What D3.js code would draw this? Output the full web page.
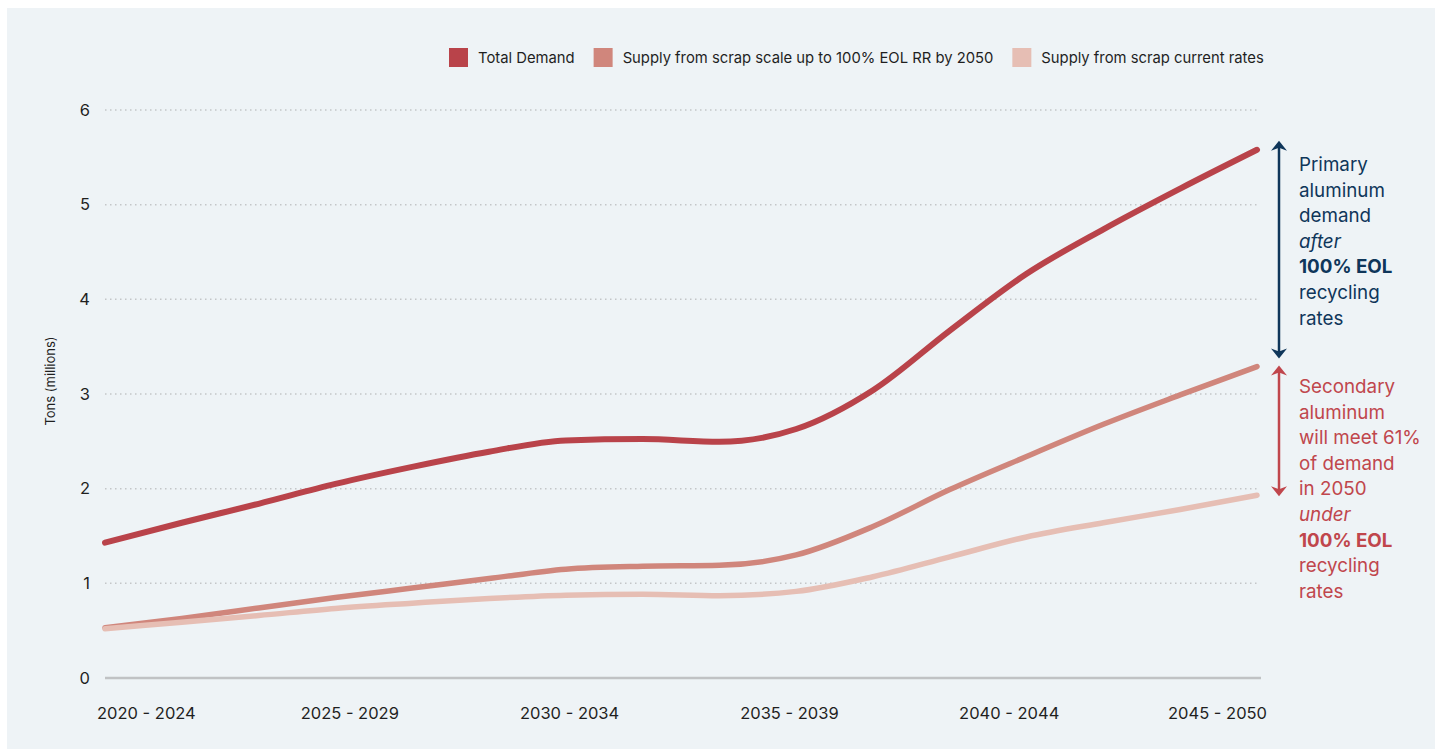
<!DOCTYPE html>
<html>
<head>
<meta charset="utf-8">
<script src="https://cdn.jsdelivr.net/npm/d3@7/dist/d3.min.js"></script>
<style>
  html, body { margin: 0; padding: 0; background: #ffffff; }
  svg { display: block; font-family: Inter, "Noto Sans", sans-serif; }
</style>
</head>
<body>
<svg id="chart" width="1440" height="749"></svg>
<script>
// ---- data ----
const years = [2020, 2022, 2024, 2026, 2028, 2030, 2032, 2034, 2036, 2038, 2040, 2042, 2044, 2046, 2048, 2050];
const totalDemand   = [1.43, 1.64, 1.84, 2.05, 2.23, 2.39, 2.51, 2.525, 2.495, 2.63, 3.04, 3.67, 4.27, 4.74, 5.17, 5.58];
const supplyScaleUp = [0.53, 0.63, 0.74, 0.85, 0.95, 1.05, 1.15, 1.18, 1.19, 1.30, 1.60, 1.99, 2.34, 2.68, 2.99, 3.29];
const supplyCurrent = [0.52, 0.59, 0.66, 0.735, 0.79, 0.84, 0.875, 0.885, 0.87, 0.915, 1.07, 1.28, 1.49, 1.64, 1.78, 1.93];
const periodLabels  = ["2020 - 2024", "2025 - 2029", "2030 - 2034", "2035 - 2039", "2040 - 2044", "2045 - 2050"];
const yTicks = [0, 1, 2, 3, 4, 5, 6];
const seriesNames = ["Total Demand", "Supply from scrap scale up to 100% EOL RR by 2050", "Supply from scrap current rates"];
const seriesColors = ["#b9434a", "#d0867c", "#e6beb4"];
const primaryNote = [["Primary", "normal", 400], ["aluminum", "normal", 400], ["demand", "normal", 400], ["after", "italic", 400], ["100% EOL", "normal", 700], ["recycling", "normal", 400], ["rates", "normal", 400]];
const secondaryNote = [["Secondary", "normal", 400], ["aluminum", "normal", 400], ["will meet 61%", "normal", 400], ["of demand", "normal", 400], ["in 2050", "normal", 400], ["under", "italic", 400], ["100% EOL", "normal", 700], ["recycling", "normal", 400], ["rates", "normal", 400]];

// ---- layout ----
const svg = d3.select("#chart");
svg.append("rect").attr("x", 7).attr("y", 8).attr("width", 1428).attr("height", 741).attr("fill", "#eef3f6");

const x = d3.scaleLinear().domain([2020, 2050]).range([105, 1257]);
const y = d3.scaleLinear().domain([0, 6]).range([678, 110]);
const xLab = d3.scalePoint().domain(periodLabels).range([130, 1229]);

// grid
const grid = svg.append("g");
grid.selectAll("line.g").data(yTicks.filter(d => d > 0)).join("line")
  .attr("x1", 105).attr("x2", 1257)
  .attr("y1", d => y(d)).attr("y2", d => y(d))
  .attr("stroke", "#c3c6c8").attr("stroke-width", 1.5).attr("stroke-dasharray", "1.5,3.5");
grid.append("line").attr("x1", 105).attr("x2", 1261).attr("y1", y(0)).attr("y2", y(0))
  .attr("stroke", "#c0c2c4").attr("stroke-width", 2.5);

// y axis
const yAxis = d3.axisLeft(y).tickValues(yTicks).tickSize(0).tickPadding(0).tickFormat(d3.format("d"));
const yg = svg.append("g").attr("transform", "translate(90,0)").call(yAxis);
yg.select(".domain").remove();
yg.selectAll("text").attr("font-size", 16.5).attr("fill", "#1f1f1f").attr("font-family", "Inter, sans-serif").attr("dy", "0.32em");

svg.append("text").attr("transform", `translate(55,381) rotate(-90)`)
  .attr("text-anchor", "middle").attr("font-size", 13).attr("fill", "#1f1f1f").text("Tons (millions)");

// x labels
const xl = svg.append("g");
xl.selectAll("text").data(periodLabels).join("text")
  .attr("x", d => xLab(d)).attr("y", 719)
  .attr("text-anchor", "middle").attr("font-size", 16.5).attr("fill", "#1f1f1f").text(d => d)
  .each(function (d) {
    const w = this.getComputedTextLength();
    const cx = Math.max(x(2020) - 8 + w / 2, Math.min(x(2050) + 10 - w / 2, xLab(d)));
    d3.select(this).attr("x", cx);
  });

// lines
const line = d3.line().x((d, i) => x(years[i])).y(d => y(d)).curve(d3.curveMonotoneX);
const drawOrder = [[supplyScaleUp, 1, 5.5], [supplyCurrent, 2, 5.5], [totalDemand, 0, 6]];
svg.append("g").selectAll("path").data(drawOrder).join("path")
  .attr("d", d => line(d[0]))
  .attr("fill", "none").attr("stroke", d => seriesColors[d[1]]).attr("stroke-width", d => d[2])
  .attr("stroke-linecap", "round").attr("stroke-linejoin", "round");

// legend
const leg = svg.append("g").attr("transform", "translate(449,48)");
let lx = 0;
seriesNames.forEach((name, i) => {
  const g = leg.append("g").attr("transform", `translate(${lx},0)`);
  g.append("rect").attr("width", 19).attr("height", 19).attr("fill", seriesColors[i]);
  const t = g.append("text").attr("x", 29).attr("y", 15).attr("font-size", 14.8).attr("fill", "#1f1f1f").text(name);
  lx += 29 + t.node().getComputedTextLength() + 19;
});

// annotations
const ax = 1279;
const navy = "#0f365a", red = "#c0464c";
function arrow(y1, y2, color) {
  const g = svg.append("g");
  g.append("line").attr("x1", ax).attr("x2", ax).attr("y1", y1 + 5).attr("y2", y2 - 5)
    .attr("stroke", color).attr("stroke-width", 2.5);
  g.append("path").attr("d", `M${ax},${y1} L${ax + 8},${y1 + 10} L${ax},${y1 + 7} L${ax - 8},${y1 + 10} Z`).attr("fill", color);
  g.append("path").attr("d", `M${ax},${y2} L${ax + 8},${y2 - 10} L${ax},${y2 - 7} L${ax - 8},${y2 - 10} Z`).attr("fill", color);
}
const yD = y(totalDemand[totalDemand.length - 1]);
const yS = y(supplyScaleUp[supplyScaleUp.length - 1]);
const yC = y(supplyCurrent[supplyCurrent.length - 1]);
arrow(yD - 9, yS - 8, navy);
arrow(yS - 1, yC + 1, red);

function note(lines, y0, color) {
  const t = svg.append("text").attr("x", 1299).attr("y", y0).attr("font-size", 18.8).attr("fill", color);
  lines.forEach((l, i) => {
    t.append("tspan").attr("x", 1299).attr("dy", i === 0 ? 0 : 25.6)
      .attr("font-style", l[1]).attr("font-weight", l[2]).text(l[0]);
  });
}
note(primaryNote, 171, navy);
note(secondaryNote, 393, red);
</script>
</body>
</html>
